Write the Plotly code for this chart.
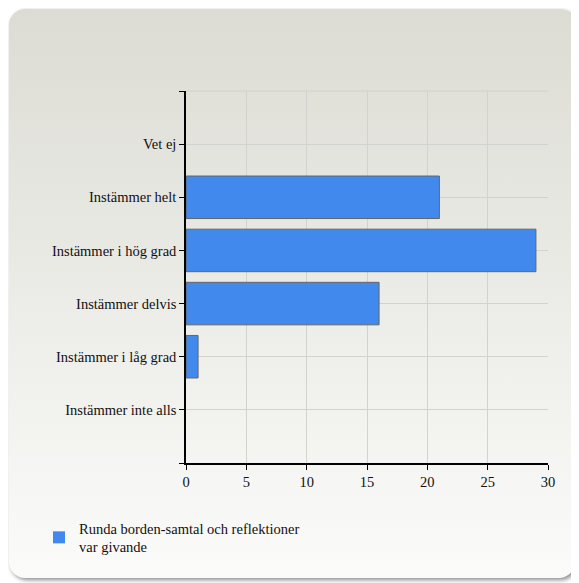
import base64
import plotly.graph_objects as go

categories = ["Instämmer inte alls", "Instämmer i låg grad", "Instämmer delvis",
              "Instämmer i hög grad", "Instämmer helt", "Vet ej"]
values = [0, 1, 16, 29, 21, 0]
series_name = "Runda borden-samtal och reflektioner<br>var givande"
x_ticks = [0, 5, 10, 15, 20, 25, 30]

# figure is shifted by the page's 8px body margin
W, H = 571, 575
L, T, PW, PH = 178, 83, 362, 372

svg = f'''<svg xmlns="http://www.w3.org/2000/svg" width="{W}" height="{H}" viewBox="0 0 {W} {H}">
<defs>
<linearGradient id="g" x1="0" y1="0" x2="0" y2="1">
<stop offset="0" stop-color="#dcdcd4"/>
<stop offset="1" stop-color="#fbfbfa"/>
</linearGradient>
<filter id="s" x="-5%" y="-5%" width="110%" height="110%">
<feGaussianBlur stdDeviation="2"/>
</filter>
</defs>
<rect x="3" y="3" width="566" height="569" rx="16" ry="16" fill="#8a8a8a" filter="url(#s)"/>
<rect x="1" y="1" width="566" height="569" rx="16" ry="16" fill="url(#g)"/>
</svg>'''
src = "data:image/svg+xml;base64," + base64.b64encode(svg.encode()).decode()

fig = go.Figure()
fig.add_trace(go.Bar(
    x=values, y=list(range(len(categories))), orientation="h",
    width=0.8, name=series_name,
    marker=dict(color="#4189ec",
                line=dict(color="#666666", width=[0 if v == 0 else 1 for v in values])),
    showlegend=True,
))

font = dict(family="Liberation Serif", size=14.5, color="#111")

fig.update_layout(
    width=W, height=H,
    margin=dict(l=L, r=W - L - PW, t=T, b=H - T - PH, pad=0),
    paper_bgcolor="white", plot_bgcolor="rgba(0,0,0,0)",
    font=font,
    images=[dict(source=src, xref="paper", yref="paper", x=-L / PW, y=1 + T / PH,
                 sizex=W / PW, sizey=H / PH, xanchor="left", yanchor="top",
                 sizing="stretch", layer="below")],
    xaxis=dict(range=[0, 30], tickvals=x_ticks, showgrid=True, gridcolor="#d2d2ce",
               gridwidth=1, showline=True, linecolor="#000", linewidth=1.5,
               ticks="outside", ticklen=5, tickcolor="#000", zeroline=False,
               tickfont=font, fixedrange=True),
    yaxis=dict(range=[-1, 6], tickvals=list(range(len(categories))), ticktext=categories,
               showgrid=True, gridcolor="#d2d2ce", gridwidth=1, showline=True,
               linecolor="#000", linewidth=1.5, ticks="outside", ticklen=5,
               tickcolor="#000", zeroline=False, tickfont=font,
               minor=dict(tick0=-1, dtick=1, ticks="outside", ticklen=5,
                          tickcolor="#000", showgrid=False),
               fixedrange=True),
    shapes=[dict(type="line", xref="paper", yref="paper", x0=0, x1=1, y0=1, y1=1,
                 line=dict(color="#d2d2ce", width=1))],
    legend=dict(x=-147 / PW, y=-49 / PH, xanchor="left", yanchor="top",
                bgcolor="rgba(0,0,0,0)", font=font, itemwidth=30),
    bargap=0.2,
)

fig.write_html("out.html")
